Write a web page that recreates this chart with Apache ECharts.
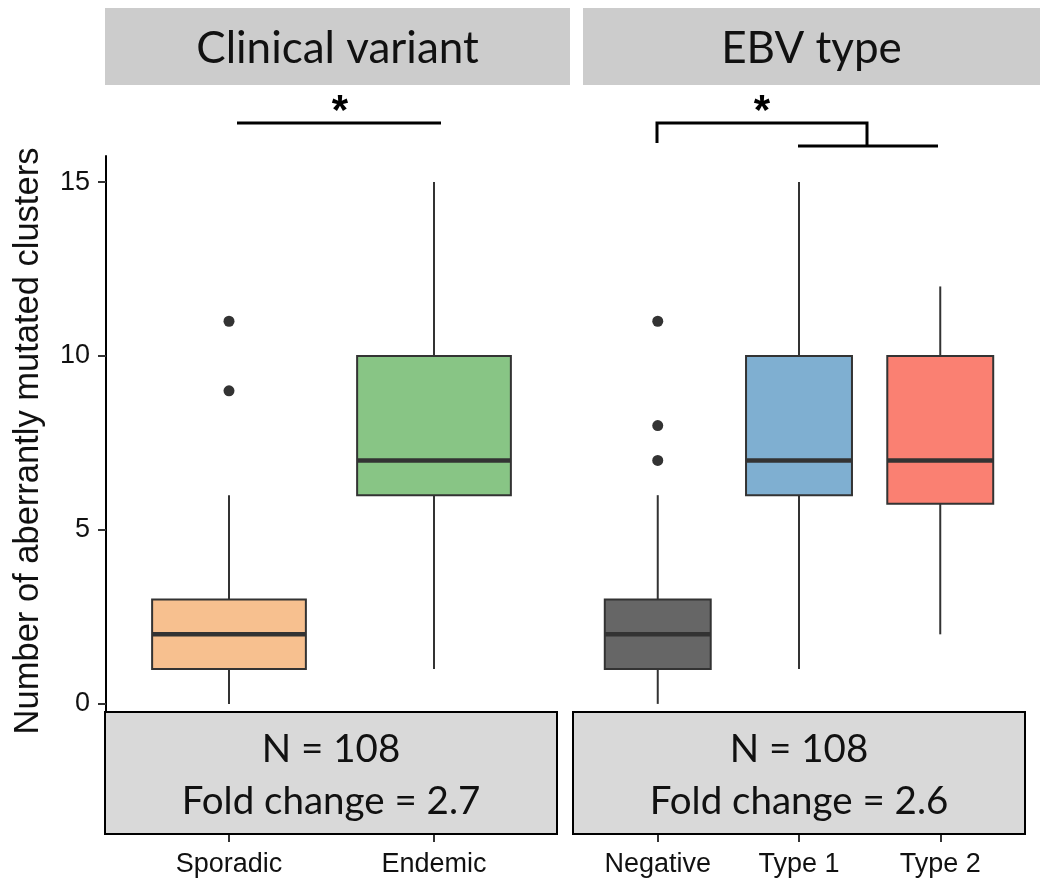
<!DOCTYPE html>
<html>
<head>
<meta charset="utf-8">
<script src="https://cdn.jsdelivr.net/npm/echarts@6/dist/echarts.min.js"></script>
<style>
  html, body { margin: 0; padding: 0; background: #ffffff; }
  #chart { width: 1040px; height: 878px; }
</style>
</head>
<body>
<div id="chart"></div>
<script>
// ---- data ----
const yTicks = [0, 5, 10, 15];
const panelTitles = ['Clinical variant', 'EBV type'];

const leftCategories = ['Sporadic', 'Endemic'];
// [low whisker, Q1, median, Q3, high whisker]
const leftStats = [[0, 1, 2, 3, 6], [1, 6, 7, 10, 15]];
// [category index, value]
const leftOutliers = [[0, 9], [0, 11]];
const leftColors = ['#F7C08F', '#88C585'];

const rightCategories = ['Negative', 'Type 1', 'Type 2'];
const rightStats = [[0, 1, 2, 3, 6], [1, 6, 7, 10, 15], [2, 5.75, 7, 10, 12]];
const rightOutliers = [[0, 7], [0, 8], [0, 11]];
const rightColors = ['#666666', '#7FAFD1', '#FA8072'];

const annotations = [['N = 108', 'Fold change = 2.7'], ['N = 108', 'Fold change = 2.6']];
const yTitle = 'Number of aberrantly mutated clusters';

// ---- chart ----
const chart = echarts.init(document.getElementById('chart'), null, { renderer: 'canvas' });

const EDGE = '#333333';
const TICK_FONT = 'Liberation Sans';
const NOTE_FONT = 'Lato';

function makeRender(colors) {
  return function (params, api) {
    const x = api.value(0);
    const pLo = api.coord([x, api.value(1)]);
    const pQ1 = api.coord([x, api.value(2)]);
    const pMd = api.coord([x, api.value(3)]);
    const pQ3 = api.coord([x, api.value(4)]);
    const pHi = api.coord([x, api.value(5)]);
    const half = api.size([0.75, 0])[0] / 2;
    const cx = pMd[0];
    return {
      type: 'group',
      children: [
        { type: 'line', shape: { x1: cx, y1: pQ1[1], x2: cx, y2: pLo[1] }, style: { stroke: EDGE, lineWidth: 2 } },
        { type: 'line', shape: { x1: cx, y1: pQ3[1], x2: cx, y2: pHi[1] }, style: { stroke: EDGE, lineWidth: 2 } },
        { type: 'rect', shape: { x: cx - half, y: pQ3[1], width: 2 * half, height: pQ1[1] - pQ3[1] },
          style: { fill: colors[params.dataIndex], stroke: EDGE, lineWidth: 2 } },
        { type: 'line', shape: { x1: cx - half, y1: pMd[1], x2: cx + half, y2: pMd[1] }, style: { stroke: EDGE, lineWidth: 4.5 } }
      ]
    };
  };
}

function xAxisFor(gridIndex, cats) {
  const vals = cats.map((c, i) => i + 1);
  return {
    type: 'value', gridIndex: gridIndex, min: 0.4, max: cats.length + 0.6,
    splitLine: { show: false },
    axisLine: { show: true, onZero: false, lineStyle: { color: '#000', width: 2 } },
    axisTick: { show: true, customValues: vals, length: 8, lineStyle: { color: '#333', width: 2 } },
    axisLabel: { show: true, customValues: vals, margin: 17, fontSize: 27, color: '#111', fontFamily: TICK_FONT,
      formatter: v => cats[Math.round(v) - 1] || '' }
  };
}

function yAxisFor(gridIndex, visible) {
  return {
    type: 'value', gridIndex: gridIndex, min: -3.74, max: 15.75,
    splitLine: { show: false },
    axisLine: { show: visible, onZero: false, lineStyle: { color: '#000', width: 2 } },
    axisTick: { show: visible, customValues: yTicks, length: 8, lineStyle: { color: '#333', width: 2 } },
    axisLabel: { show: visible, customValues: yTicks, margin: 16, fontSize: 27, color: '#111', fontFamily: TICK_FONT }
  };
}

const graphics = [];
// strip headers
[[105, 465], [583, 457]].forEach((g, i) => {
  graphics.push({ type: 'rect', shape: { x: g[0], y: 8, width: g[1], height: 77 }, style: { fill: '#cccccc' }, z: 1 });
  graphics.push({ type: 'text', x: g[0] + g[1] / 2, y: 49, z: 2,
    style: { text: panelTitles[i], fontSize: 44, fontFamily: NOTE_FONT, fill: '#111', textAlign: 'center', textVerticalAlign: 'middle' } });
});
// annotation boxes
[[105, 452], [573, 452]].forEach((g, i) => {
  graphics.push({ type: 'rect', shape: { x: g[0], y: 712, width: g[1], height: 122 },
    style: { fill: '#d9d9d9', stroke: '#000', lineWidth: 2 }, z: 5 });
  graphics.push({ type: 'text', x: g[0] + g[1] / 2, y: 776, z: 6,
    style: { text: annotations[i].join('\n'), fontSize: 38.5, lineHeight: 52, fontFamily: NOTE_FONT, fill: '#111',
      textAlign: 'center', textVerticalAlign: 'middle' } });
});
// significance markers
graphics.push({ type: 'line', shape: { x1: 237, y1: 123, x2: 441, y2: 123 }, style: { stroke: '#000', lineWidth: 3 }, z: 5 });
graphics.push({ type: 'text', x: 340, y: 112, z: 5,
  style: { text: '*', fontSize: 42, fontWeight: 'bold', fontFamily: TICK_FONT, fill: '#000', textAlign: 'center', textVerticalAlign: 'middle' } });
graphics.push({ type: 'polyline', shape: { points: [[657, 143], [657, 123], [867, 123], [867, 145]] }, style: { stroke: '#000', lineWidth: 3, fill: null }, z: 5 });
graphics.push({ type: 'line', shape: { x1: 798, y1: 146, x2: 938, y2: 146 }, style: { stroke: '#000', lineWidth: 3 }, z: 5 });
graphics.push({ type: 'text', x: 762, y: 112, z: 5,
  style: { text: '*', fontSize: 42, fontWeight: 'bold', fontFamily: TICK_FONT, fill: '#000', textAlign: 'center', textVerticalAlign: 'middle' } });
// y axis title
graphics.push({ type: 'text', x: 28, y: 441, rotation: Math.PI / 2, z: 5,
  style: { text: yTitle, fontSize: 34.5, fontFamily: TICK_FONT, fill: '#111', textAlign: 'center', textVerticalAlign: 'middle' } });

const option = {
  animation: false,
  backgroundColor: '#ffffff',
  grid: [
    { left: 106, width: 451, top: 156, height: 678 },
    { left: 573, width: 452, top: 156, height: 678 }
  ],
  xAxis: [xAxisFor(0, leftCategories), xAxisFor(1, rightCategories)],
  yAxis: [yAxisFor(0, true), yAxisFor(1, false)],
  series: [
    { type: 'custom', xAxisIndex: 0, yAxisIndex: 0, renderItem: makeRender(leftColors),
      encode: { x: 0, y: [1, 2, 3, 4, 5] }, data: leftStats.map((s, i) => [i + 1].concat(s)) },
    { type: 'scatter', xAxisIndex: 0, yAxisIndex: 0, symbolSize: 11, itemStyle: { color: EDGE, opacity: 1 },
      data: leftOutliers.map(o => [o[0] + 1, o[1]]) },
    { type: 'custom', xAxisIndex: 1, yAxisIndex: 1, renderItem: makeRender(rightColors),
      encode: { x: 0, y: [1, 2, 3, 4, 5] }, data: rightStats.map((s, i) => [i + 1].concat(s)) },
    { type: 'scatter', xAxisIndex: 1, yAxisIndex: 1, symbolSize: 11, itemStyle: { color: EDGE, opacity: 1 },
      data: rightOutliers.map(o => [o[0] + 1, o[1]]) }
  ],
  graphic: graphics
};
chart.setOption(option);
</script>
</body>
</html>
